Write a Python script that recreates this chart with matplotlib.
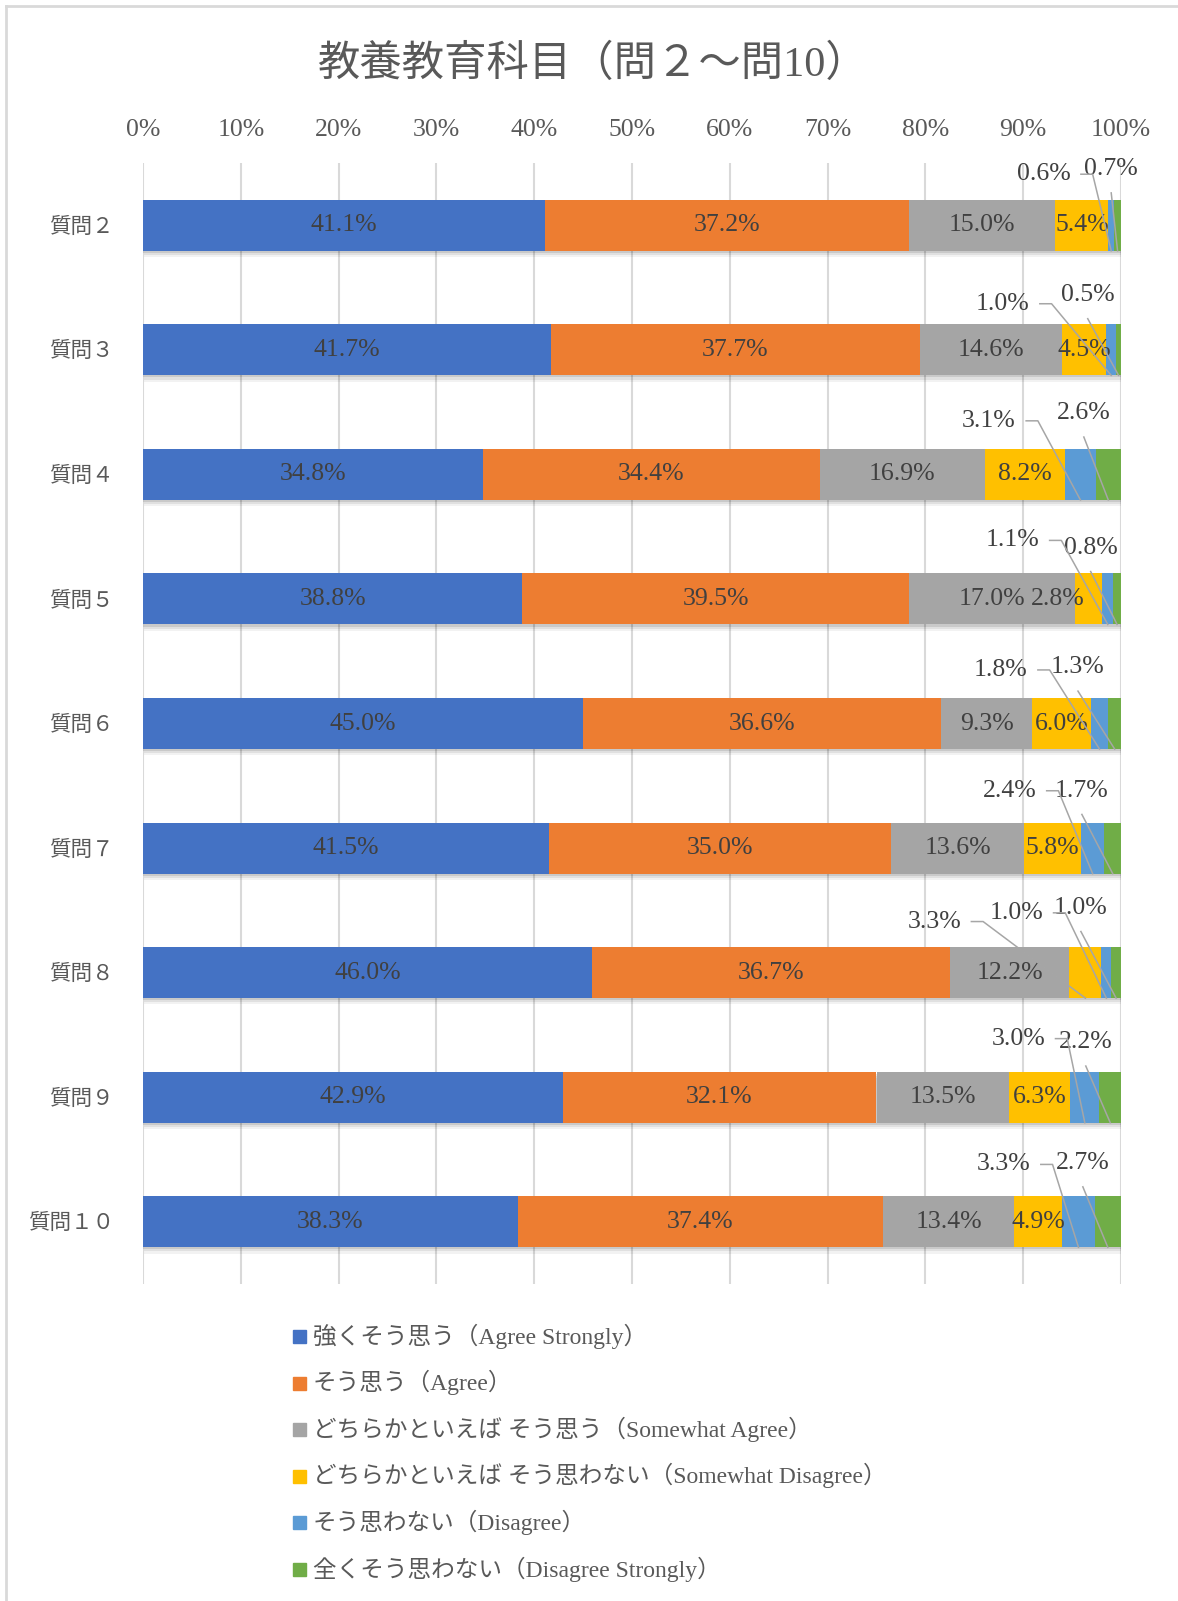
import matplotlib
matplotlib.use('Agg')
import matplotlib.pyplot as plt
import matplotlib.patheffects as pe
from matplotlib.patches import Rectangle
from matplotlib.lines import Line2D
import numpy as np

W, H = 1178, 1601

categories = ['質問２', '質問３', '質問４', '質問５', '質問６', '質問７', '質問８', '質問９', '質問１０']
agree_strongly = [41.1, 41.7, 34.8, 38.8, 45.0, 41.5, 46.0, 42.9, 38.3]
agree = [37.2, 37.7, 34.4, 39.5, 36.6, 35.0, 36.7, 32.1, 37.4]
somewhat_agree = [15.0, 14.6, 16.9, 17.0, 9.3, 13.6, 12.2, 13.5, 13.4]
somewhat_disagree = [5.4, 4.5, 8.2, 2.8, 6.0, 5.8, 3.3, 6.3, 4.9]
disagree = [0.6, 1.0, 3.1, 1.1, 1.8, 2.4, 1.0, 3.0, 3.3]
disagree_strongly = [0.7, 0.5, 2.6, 0.8, 1.3, 1.7, 1.0, 2.2, 2.7]

series_names = ['強くそう思う（Agree Strongly）',
                'そう思う（Agree）',
                'どちらかといえば そう思う（Somewhat Agree）',
                'どちらかといえば そう思わない（Somewhat Disagree）',
                'そう思わない（Disagree）',
                '全くそう思わない（Disagree Strongly）']
colors = ['#4472C4', '#ED7D31', '#A5A5A5', '#FFC000', '#5B9BD5', '#70AD47']

title = '教養教育科目（問２～問10）'

# label placement for small segments: category -> [(series, text x %, text y offset)]
outside = {
    0: [(4, 92.1, -0.41), (5, 99.0, -0.45)],
    1: [(4, 87.9, -0.37), (5, 96.6, -0.44)],
    2: [(4, 86.5, -0.43), (5, 96.2, -0.49)],
    3: [(4, 88.9, -0.47), (5, 96.9, -0.41)],
    4: [(4, 87.7, -0.43), (5, 95.6, -0.45)],
    5: [(4, 88.6, -0.46), (5, 96.0, -0.46)],
    6: [(3, 80.9, -0.41), (4, 89.3, -0.48), (5, 95.9, -0.52)],
    7: [(4, 89.5, -0.47), (5, 96.4, -0.44)],
    8: [(4, 88.0, -0.46), (5, 96.1, -0.47)],
}
inside_shift = {(3, 3): -3.2}

plt.rcParams['font.family'] = ['Liberation Serif', 'Noto Sans CJK JP']
txt_col = '#404040'
axis_col = '#595959'
num_size = 18.5

values = np.array([agree_strongly, agree, somewhat_agree,
                   somewhat_disagree, disagree, disagree_strongly])
shares = values / values.sum(axis=0) * 100
lefts = np.cumsum(shares, axis=0) - shares

fig = plt.figure(figsize=(W / 100, H / 100), dpi=100)
ax = fig.add_axes([143 / W, 1 - 1284 / H, (1121 - 143) / W, (1284 - 163) / H])

y = np.arange(len(categories))
bar_h = 0.41
# soft drop shadow under the bars
shadow = [pe.SimplePatchShadow(offset=(0.5, -4.5), shadow_rgbFace='#000000', alpha=0.05),
          pe.SimplePatchShadow(offset=(0.5, -3), shadow_rgbFace='#000000', alpha=0.07),
          pe.SimplePatchShadow(offset=(0.3, -1.5), shadow_rgbFace='#000000', alpha=0.1),
          pe.Normal()]
for k in range(len(series_names)):
    ax.barh(y, shares[k], left=lefts[k], height=bar_h, color=colors[k],
            path_effects=shadow, zorder=3)

for i in range(len(categories)):
    out_series = [o[0] for o in outside.get(i, [])]
    for k in range(len(series_names)):
        if k in out_series:
            continue
        cx = lefts[k, i] + shares[k, i] / 2 + inside_shift.get((k, i), 0)
        ax.text(cx, i, f'{values[k, i]:.1f}%', ha='center', va='center',
                fontsize=num_size, color=txt_col, zorder=5)
    labs = outside.get(i, [])
    for j, (k, tx, dy) in enumerate(labs):
        ty = i + dy
        ax.text(tx, ty, f'{values[k, i]:.1f}%', ha='center', va='center',
                fontsize=num_size, color=txt_col, zorder=5)
        seg_x = lefts[k, i] + shares[k, i] / 2
        bottom = i + bar_h / 2
        if j < len(labs) - 1:
            xs = [tx + 3.8, tx + 5.0, seg_x]
            ys = [ty, ty, bottom]
        else:
            xs = [tx, seg_x]
            ys = [ty + 0.19, bottom]
        ax.plot(xs, ys, color='#A6A6A6', lw=1.1, zorder=6)

ax.set_xlim(0, 100)
ax.set_ylim(len(categories) - 0.5, -0.5)
ax.set_xticks(np.arange(0, 101, 10))
ax.set_xticklabels([f'{t}%' for t in range(0, 101, 10)])
ax.xaxis.tick_top()
ax.set_yticks(y)
ax.set_yticklabels(categories)
ax.tick_params(axis='x', length=0, pad=16, labelsize=num_size, colors=axis_col)
ax.tick_params(axis='y', length=0, pad=21, labelsize=15.5, colors=axis_col)
ax.grid(axis='x', color='#D9D9D9', lw=1.5)
ax.set_axisbelow(True)
for s in ax.spines.values():
    s.set_visible(False)

fig.text(593 / W, 1 - 65 / H, title, ha='center', va='center', fontsize=30.5, color=axis_col)

# legend
for k, name in enumerate(series_names):
    yc = 1336 + 46.6 * k
    fig.patches.append(Rectangle((293 / W, 1 - (yc + 7) / H), 13 / W, 13 / H,
                                 transform=fig.transFigure, color=colors[k]))
    fig.text(313 / W, 1 - yc / H, name, ha='left', va='center', fontsize=17, color=axis_col)

# chart frame
fig.add_artist(Line2D([6 / W, 6 / W], [0, 1 - 6 / H], color='#D9D9D9', lw=2))
fig.add_artist(Line2D([6 / W, 1], [1 - 6 / H, 1 - 6 / H], color='#D9D9D9', lw=2))

fig.savefig('out.png', dpi=100)
